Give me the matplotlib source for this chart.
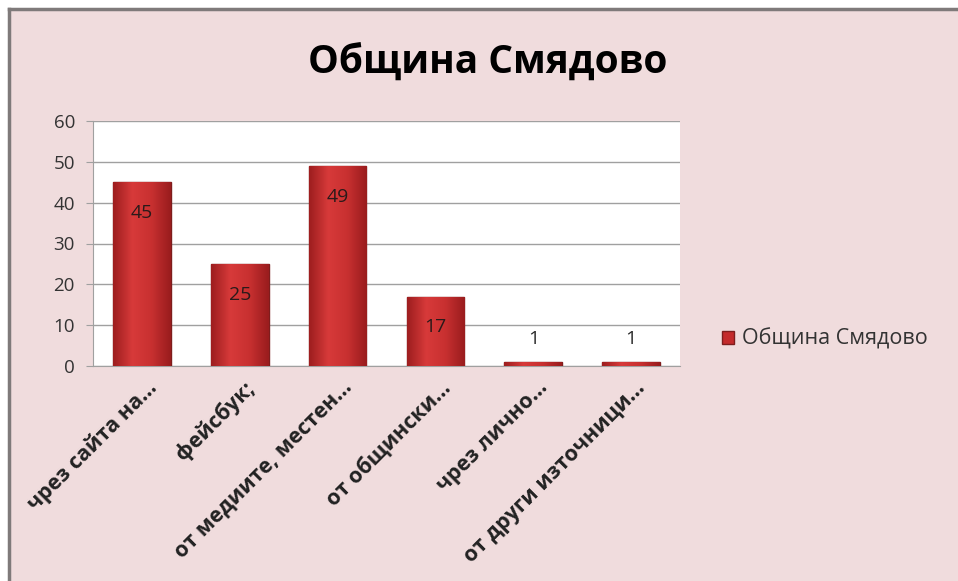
import numpy as np
import matplotlib.pyplot as plt
import matplotlib.transforms as mtransforms
from matplotlib.patches import Rectangle
from matplotlib.colors import LinearSegmentedColormap

# Chart data
categories = ['чрез сайта на...', 'фейсбук;', 'от медиите, местен...',
              'от общински...', 'чрез лично...', 'от други източници...']
values = [45, 25, 49, 17, 1, 1]
series_name = 'Община Смядово'
y_ticks = [0, 10, 20, 30, 40, 50, 60]

plt.rcParams['font.family'] = ['Open Sans', 'DejaVu Sans']

bg = '#f0dcdd'
fig = plt.figure(figsize=(9.58, 5.81), dpi=100)
fig.patch.set_facecolor('white')

# Chart area background with gray frame on left/top
fig.patches.append(Rectangle((9 / 958, 0), 1, 1 - 9 / 581, transform=fig.transFigure,
                             facecolor=bg, edgecolor='none', zorder=-5))
fig.add_artist(plt.Line2D([9 / 958, 9 / 958], [0, 1 - 9 / 581], color='#7f7a7a',
                          lw=2.5, transform=fig.transFigure, zorder=-4))
fig.add_artist(plt.Line2D([9 / 958, 1], [1 - 9 / 581, 1 - 9 / 581], color='#7f7a7a',
                          lw=2.5, transform=fig.transFigure, zorder=-4))

ax = fig.add_axes([93 / 958, 215 / 581, 587 / 958, 245 / 581])
ax.set_facecolor('white')

x = np.arange(len(categories))
bars = ax.bar(x, values, width=0.59, color='#c42a2b', edgecolor='#7e1d1d',
              linewidth=1.0, label=series_name, zorder=3)

# Shaded fill for each bar (darker sides, lighter middle)
cmap = LinearSegmentedColormap.from_list('barshade', ['#9e1e1f', '#d73a3a', '#c83030', '#9a1d1e'])
grad = np.linspace(0, 1, 64).reshape(1, -1)
for b in bars:
    bx, by = b.get_x(), b.get_y()
    im = ax.imshow(grad, cmap=cmap, aspect='auto', zorder=3.5,
                   extent=(bx, bx + b.get_width(), by, by + b.get_height()))
    im.set_clip_path(b)
ax.set_xlim(-0.5, len(categories) - 0.5)
ax.set_ylim(0, 60)

# Value labels
for i, v in enumerate(values):
    if v > 5:
        ax.text(i, v - 7.5, str(v), ha='center', va='center', fontsize=14,
                color='#2a1a1a', zorder=5)
    else:
        ax.text(i, v + 5.5, str(v), ha='center', va='center', fontsize=14,
                color='#2a2a2a', zorder=5)

ax.set_yticks(y_ticks)
ax.yaxis.grid(True, color='#a0a0a0', linewidth=1.0, zorder=0)
ax.set_axisbelow(True)
ax.tick_params(axis='y', labelsize=13.5, length=5, color='#a0a0a0', labelcolor='#333333', pad=8)
ax.tick_params(axis='x', length=0, pad=8)
ax.set_xticks(x)
ax.set_xticklabels(categories, rotation=45, ha='right', rotation_mode='anchor',
                   fontsize=15.5, fontweight='bold', color='#222222')
offset = mtransforms.ScaledTranslation(4 / 100, 0, fig.dpi_scale_trans)
for lbl in ax.get_xticklabels():
    lbl.set_transform(lbl.get_transform() + offset)

for s in ['top', 'right']:
    ax.spines[s].set_visible(False)
ax.spines['left'].set_color('#a0a0a0')
ax.spines['bottom'].set_color('#a0a0a0')

fig.text(488 / 958, 1 - 62 / 581, 'Община Смядово', ha='center', va='center',
         fontsize=28, fontweight='bold', color='black')

leg = fig.legend(handles=[bars], labels=[series_name], loc='center left',
                 bbox_to_anchor=(703 / 958, 1 - 339 / 581), frameon=False,
                 fontsize=15.5, handlelength=0.55, handleheight=0.55, handletextpad=0.35)
for t in leg.get_texts():
    t.set_color('#333333')

fig.savefig('out.png', dpi=100, facecolor=fig.get_facecolor())
